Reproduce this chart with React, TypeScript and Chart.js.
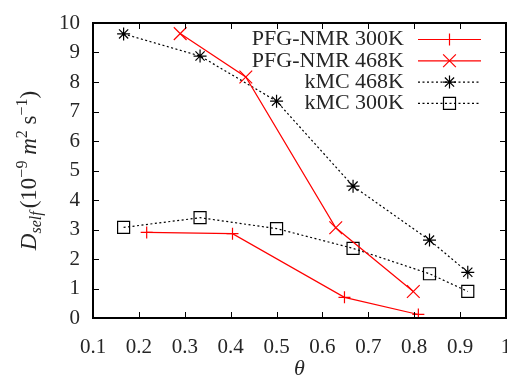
import React, { useEffect, useRef } from 'react';
import { Chart, registerables } from 'chart.js';
import { drawPoint } from 'chart.js/helpers';

Chart.register(...registerables);

// ---- data ----
const nmr300X = [0.217, 0.404, 0.648, 0.809];
const nmr300Y = [2.9, 2.86, 0.7, 0.12];
const nmr468X = [0.29, 0.433, 0.629, 0.798];
const nmr468Y = [9.64, 8.17, 3.06, 0.9];
const kmc468X = [0.1667, 0.3333, 0.5, 0.6667, 0.8333, 0.9167];
const kmc468Y = [9.63, 8.88, 7.35, 4.47, 2.64, 1.55];
const kmc300X = [0.1667, 0.3333, 0.5, 0.6667, 0.8333, 0.9167];
const kmc300Y = [3.07, 3.4, 3.03, 2.36, 1.5, 0.9];
const seriesNames = ['PFG-NMR 300K', 'PFG-NMR 468K', 'kMC 468K', 'kMC 300K'];
const xTitle = 'θ';
const yTitleParts = [
  { t: 'D', italic: true, small: false, shift: 0, gap: 0 },
  { t: 'self', italic: true, small: true, shift: 5, gap: 3 },
  { t: '(10', italic: false, small: false, shift: 0, gap: 0 },
  { t: '−9', italic: false, small: true, shift: -9, gap: 0 },
  { t: ' m', italic: true, small: false, shift: 0, gap: 0 },
  { t: '2', italic: false, small: true, shift: -9, gap: 0 },
  { t: ' s', italic: false, small: false, shift: 0, gap: 0 },
  { t: '−1', italic: false, small: true, shift: -9, gap: 0 },
  { t: ')', italic: false, small: false, shift: 0, gap: 0 },
];

const FONT = "'Liberation Serif', 'DejaVu Serif', serif";
const TEXT = '#262626';

const pts = (xs: number[], ys: number[]) => xs.map((x, i) => ({ x, y: ys[i] }));

const decorPlugin = {
  id: 'decor',
  afterDatasetsDraw(chart: any) {
    const { ctx, chartArea: a, scales } = chart;
    const xs = scales.x;
    const ys = scales.y;
    ctx.save();
    // inward ticks on all four sides
    ctx.strokeStyle = '#000';
    ctx.lineWidth = 1;
    ctx.setLineDash([]);
    ctx.beginPath();
    xs.ticks.forEach((t: any) => {
      const px = Math.round(xs.getPixelForValue(t.value)) + 0.5;
      ctx.moveTo(px, a.bottom);
      ctx.lineTo(px, a.bottom - 6);
      ctx.moveTo(px, a.top);
      ctx.lineTo(px, a.top + 6);
    });
    ys.ticks.forEach((t: any) => {
      const py = Math.round(ys.getPixelForValue(t.value)) + 0.5;
      ctx.moveTo(a.left, py);
      ctx.lineTo(a.left + 6, py);
      ctx.moveTo(a.right, py);
      ctx.lineTo(a.right - 6, py);
    });
    ctx.stroke();
    // frame
    ctx.lineWidth = 2;
    ctx.strokeRect(a.left, a.top, a.right - a.left, a.bottom - a.top);

    // legend
    const textRight = 404;
    const lineL = 418;
    const lineR = 481;
    const y0 = 39.5;
    const dy = 21.3;
    chart.data.datasets.forEach((ds: any, i: number) => {
      const y = y0 + i * dy;
      ctx.font = `22px ${FONT}`;
      ctx.fillStyle = TEXT;
      ctx.textAlign = 'right';
      ctx.textBaseline = 'middle';
      ctx.fillText(ds.label, textRight, y);
      ctx.strokeStyle = ds.borderColor;
      ctx.lineWidth = ds.borderWidth;
      ctx.setLineDash(ds.borderDash || []);
      ctx.beginPath();
      ctx.moveTo(lineL, y);
      ctx.lineTo(lineR, y);
      ctx.stroke();
      ctx.setLineDash([]);
      ctx.fillStyle = 'rgba(0,0,0,0)';
      ctx.lineWidth = ds.pointBorderWidth;
      drawPoint(ctx, { pointStyle: ds.pointStyle, radius: ds.pointRadius, rotation: 0, borderWidth: ds.pointBorderWidth }, (lineL + lineR) / 2, y);
    });

    // y-axis title with sub/superscripts
    const big = 23;
    const small = 16;
    const fontFor = (p: any) => `${p.italic ? 'italic ' : ''}${p.small ? small : big}px ${FONT}`;
    let total = 0;
    yTitleParts.forEach((p) => {
      ctx.font = fontFor(p);
      total += ctx.measureText(p.t).width + p.gap;
    });
    const cy = (a.top + a.bottom) / 2;
    ctx.translate(36, cy);
    ctx.rotate(-Math.PI / 2);
    ctx.textAlign = 'left';
    ctx.textBaseline = 'alphabetic';
    ctx.fillStyle = TEXT;
    let x = -total / 2;
    yTitleParts.forEach((p) => {
      ctx.font = fontFor(p);
      ctx.fillText(p.t, x, p.shift);
      x += ctx.measureText(p.t).width + p.gap;
    });
    ctx.restore();
  },
};

export default function App() {
  const ref = useRef<HTMLCanvasElement | null>(null);
  useEffect(() => {
    if (!ref.current) return;
    const red = '#ff0000';
    const chart = new Chart(ref.current, {
      type: 'line',
      data: {
        datasets: [
          {
            label: seriesNames[0],
            data: pts(nmr300X, nmr300Y),
            borderColor: red,
            backgroundColor: 'rgba(0,0,0,0)',
            borderWidth: 1.2,
            pointStyle: 'cross',
            pointRadius: 6,
            pointBorderWidth: 1.2,
            pointBorderColor: red,
          },
          {
            label: seriesNames[1],
            data: pts(nmr468X, nmr468Y),
            borderColor: red,
            backgroundColor: 'rgba(0,0,0,0)',
            borderWidth: 1.2,
            pointStyle: 'crossRot',
            pointRadius: 9,
            pointBorderWidth: 1.2,
            pointBorderColor: red,
          },
          {
            label: seriesNames[2],
            data: pts(kmc468X, kmc468Y),
            borderColor: '#000',
            backgroundColor: 'rgba(0,0,0,0)',
            borderWidth: 1.2,
            borderDash: [2, 2.5],
            pointStyle: 'star',
            pointRadius: 6.5,
            pointBorderWidth: 1.2,
            pointBorderColor: '#000',
          },
          {
            label: seriesNames[3],
            data: pts(kmc300X, kmc300Y),
            borderColor: '#000',
            backgroundColor: 'rgba(0,0,0,0)',
            borderWidth: 1.2,
            borderDash: [2, 2.5],
            pointStyle: 'rect',
            pointRadius: 8.5,
            pointBorderWidth: 1.2,
            pointBorderColor: '#000',
            pointBackgroundColor: 'rgba(0,0,0,0)',
          },
        ] as any,
      },
      options: {
        responsive: false,
        animation: false,
        events: [],
        layout: { padding: { left: 0, top: 23, right: 1, bottom: 0 }, autoPadding: false } as any,
        plugins: { legend: { display: false }, tooltip: { enabled: false } },
        scales: {
          x: {
            type: 'linear',
            min: 0.1,
            max: 1,
            grid: { display: false },
            border: { display: false },
            ticks: {
              stepSize: 0.1,
              padding: 9,
              autoSkip: false,
              maxRotation: 0,
              color: TEXT,
              font: { family: FONT, size: 21 },
              callback: (v: any) => String(Number(Number(v).toFixed(1))),
            },
            title: {
              display: true,
              text: xTitle,
              color: TEXT,
              padding: 0,
              font: { family: FONT, size: 22, style: 'italic', lineHeight: 0.6 },
            },
            afterFit: (s: any) => {
              s.height = 58;
              s.paddingLeft = 0;
              s.paddingRight = 0;
            },
          },
          y: {
            type: 'linear',
            min: 0,
            max: 10,
            grid: { display: false },
            border: { display: false },
            ticks: {
              stepSize: 1,
              padding: 5,
              color: TEXT,
              font: { family: FONT, size: 21 },
            },
            afterFit: (s: any) => {
              s.width = 93;
              s.paddingTop = 0;
              s.paddingBottom = 0;
            },
          },
        },
      } as any,
      plugins: [decorPlugin],
    });
    return () => chart.destroy();
  }, []);
  return (
    <div style={{ position: 'absolute', left: 0, top: 0, width: 507, height: 376 }}>
      <canvas ref={ref} width={507} height={376} style={{ display: 'block' }} />
    </div>
  );
}
